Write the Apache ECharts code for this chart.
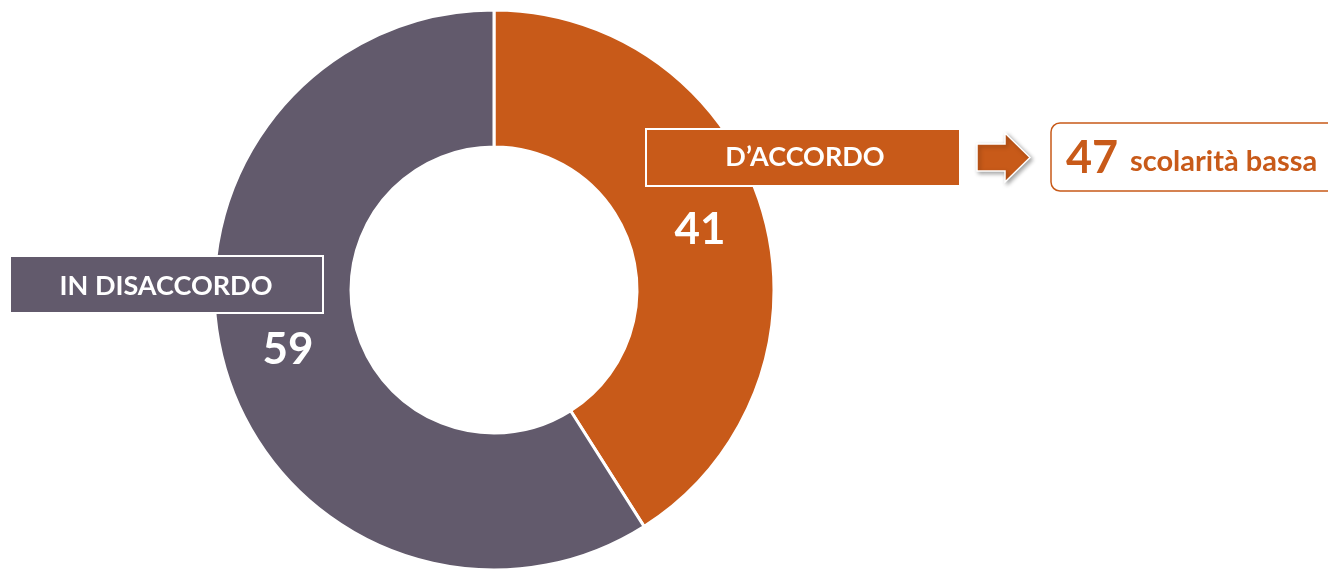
<!DOCTYPE html>
<html>
<head>
<meta charset="utf-8">
<script src="https://cdn.jsdelivr.net/npm/echarts@6/dist/echarts.min.js"></script>
<style>
  html, body { margin: 0; padding: 0; background: #fff; }
  #chart { width: 1328px; height: 570px; }
</style>
</head>
<body>
<div id="chart"></div>
<script>
// data
var categories = ['D\u2019ACCORDO', 'IN DISACCORDO']
var values = [41, 59]
var colors = ['#C85A19', '#625A6C']
var lowEduValue = 47
var lowEduLabel = 'scolarità bassa'

var FONT = 'Lato, "Noto Sans", sans-serif'

var chart = echarts.init(document.getElementById('chart'))

chart.setOption({
  backgroundColor: '#fff',
  animation: false,
  series: [{
    type: 'pie',
    center: [494, 290],
    radius: [143, 280],
    startAngle: 90,
    clockwise: true,
    emphasis: { disabled: true },
    itemStyle: {
      borderColor: '#fff',
      borderWidth: 3
    },
    label: {
      show: true,
      position: 'inside',
      formatter: '{c}',
      color: '#fff',
      fontSize: 44,
      fontWeight: 'bold',
      fontFamily: FONT
    },
    labelLine: { show: false },
    data: categories.map(function(name, i) {
      return { name: name, value: values[i], itemStyle: { color: colors[i] }}
    })
  }],
  graphic: [
    // D'ACCORDO box
    {
      type: 'rect', z: 100,
      shape: { x: 646, y: 129, width: 314, height: 57 },
      style: { fill: colors[0], stroke: '#fff', lineWidth: 2 }
    },
    {
      type: 'text', z: 101,
      style: {
        x: 805, y: 157, text: categories[0], align: 'center', verticalAlign: 'middle',
        fill: '#fff', fontSize: 27, fontWeight: 'bold', fontFamily: FONT
      }
    },
    // IN DISACCORDO box
    {
      type: 'rect', z: 100,
      shape: { x: 10, y: 256, width: 313, height: 57 },
      style: { fill: colors[1], stroke: '#fff', lineWidth: 2 }
    },
    {
      type: 'text', z: 101,
      style: {
        x: 166, y: 286, text: categories[1], align: 'center', verticalAlign: 'middle',
        fill: '#fff', fontSize: 27, fontWeight: 'bold', fontFamily: FONT
      }
    },
    // arrow
    {
      type: 'polygon', z: 100,
      shape: { points: [[977, 144], [1005, 144], [1005, 133], [1030, 157.5], [1005, 182], [1005, 171], [977, 171]] },
      style: {
        fill: colors[0], stroke: '#fff', lineWidth: 1.5,
        shadowBlur: 4, shadowOffsetX: 2, shadowOffsetY: 2, shadowColor: 'rgba(0,0,0,0.35)'
      }
    },
    // low education box
    {
      type: 'rect', z: 100,
      shape: { x: 1051, y: 123, width: 300, height: 68, r: 9 },
      style: { fill: '#fff', stroke: colors[0], lineWidth: 1.5 }
    },
    {
      type: 'text', z: 101,
      style: {
        x: 1066, y: 158, text: String(lowEduValue), align: 'left', verticalAlign: 'middle',
        fill: colors[0], fontSize: 45, fontWeight: 'bold', fontFamily: FONT
      }
    },
    {
      type: 'text', z: 101,
      style: {
        x: 1130, y: 162, text: lowEduLabel, align: 'left', verticalAlign: 'middle',
        fill: colors[0], fontSize: 29, fontWeight: 'bold', fontFamily: FONT
      }
    }
  ]
})
</script>
</body>
</html>
